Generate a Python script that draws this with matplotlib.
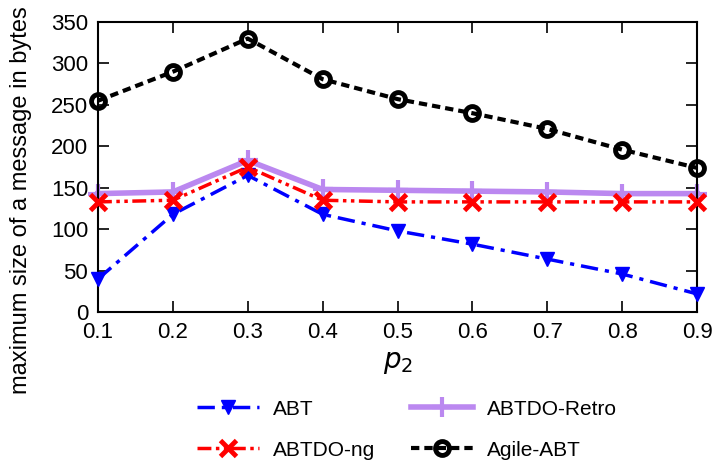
import numpy as np
import matplotlib.pyplot as plt

plt.rcParams['font.family'] = ['Liberation Sans', 'DejaVu Sans']

# Data
p2 = [0.1, 0.2, 0.3, 0.4, 0.5, 0.6, 0.7, 0.8, 0.9]
abt = [40, 118, 165, 118, 98, 82, 64, 46, 22]
abtdo_retro = [143, 145, 183, 148, 147, 146, 145, 143, 143]
abtdo_ng = [133, 135, 175, 135, 133, 133, 133, 133, 133]
agile_abt = [255, 290, 330, 281, 257, 240, 221, 196, 174]

fig = plt.figure(figsize=(7.15, 4.68), dpi=100)
ax = fig.add_axes([0.137, 0.333, 0.838, 0.62])

l_abt, = ax.plot(p2, abt, color='#0000ff', lw=2.5, dashes=(5, 2, 1.2, 2),
                 marker='v', ms=10, label='ABT', clip_on=False, zorder=3)
l_retro, = ax.plot(p2, abtdo_retro, color='#bb88f0', lw=4, linestyle='-',
                   marker='+', ms=14, mew=3, label='ABTDO-Retro', clip_on=False, zorder=2)
l_ng, = ax.plot(p2, abtdo_ng, color='#ff0000', lw=2.5, dashes=(4, 1.3, 1, 1.3, 1, 1.3),
                marker='x', ms=12, mew=3.5, label='ABTDO-ng', clip_on=False, zorder=3)
l_agile, = ax.plot(p2, agile_abt, color='black', lw=3, dashes=(2, 1.2),
                   marker='o', ms=10, mfc='none', mew=3.5, label='Agile-ABT', clip_on=False, zorder=4)

ax.set_xlim(0.1, 0.9)
ax.set_ylim(0, 350)
ax.set_xticks(p2)
ax.set_xticklabels(['0.1', '0.2', '0.3', '0.4', '0.5', '0.6', '0.7', '0.8', '0.9'])
ax.set_yticks(np.arange(0, 351, 50))
ax.tick_params(direction='in', length=8, width=1.2, top=True, right=True,
               labelsize=16, pad=7)
for s in ax.spines.values():
    s.set_linewidth(1.5)

ax.set_xlabel('$p_2$', fontsize=20, labelpad=5)
ax.set_ylabel('maximum size of a message in bytes', fontsize=17)
ax.yaxis.set_label_coords(-0.11, 0.385)

fig.legend(handles=[l_abt, l_ng, l_retro, l_agile], ncol=2, frameon=False,
           loc='center', bbox_to_anchor=(0.569, 0.082), fontsize=15,
           handlelength=3.0, columnspacing=1.7, labelspacing=1.05, handletextpad=0.65)

fig.savefig('out.png', dpi=100)
